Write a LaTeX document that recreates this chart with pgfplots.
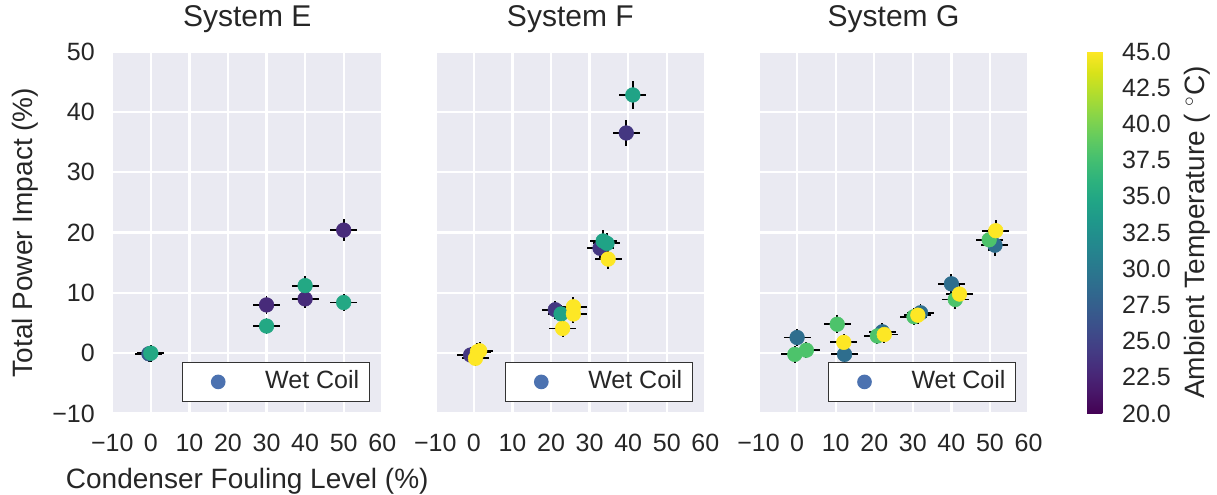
\documentclass[border=0pt]{standalone}
\usepackage{fontspec}
\setmainfont{Liberation Sans}
\usepackage{pgfplots}
\usepackage{pgfplotstable}
\pgfplotsset{compat=1.18}
\definecolor{bggray}{HTML}{EAEAF2}
\definecolor{textgray}{HTML}{262626}
\definecolor{wetblue}{HTML}{4C72B0}
\newcommand{\tickfont}{\fontsize{18.75}{21}\selectfont}
\newcommand{\labelfont}{\fontsize{21}{25}\selectfont}
\newcommand{\titlefont}{\fontsize{22.5}{27}\selectfont}

\pgfplotstableread{
x y ex ey c
-0.5 -0.1 3.5 1.35 27
30 8.0 3.5 1.45 23
40 9.0 3.5 1.5 23
50 20.4 3.5 1.8 23
0 0.0 3.5 1.4 35
30 4.5 3.5 1.4 35
40 11.2 3.5 1.55 35
50 8.4 3.5 1.45 35
}\dataE

\pgfplotstableread{
x y ex ey c
-0.85 -0.3 3.5 1.35 24
21.1 7.2 3.5 1.5 24
32.7 17.4 3.5 1.75 24
39.5 36.5 3.5 2.15 24
22.6 6.5 3.5 1.5 34.5
33.5 18.6 3.5 1.75 34.5
34.5 18.2 3.5 1.75 34.5
41.2 42.8 3.5 2.3 34.5
0.4 -0.85 3.5 1.35 45
0.9 0.25 3.5 1.4 45
1.5 0.4 3.5 1.4 45
23.0 4.1 3.5 1.45 45
25.8 7.7 3.5 1.55 45
25.8 6.5 3.5 1.5 45
34.8 15.6 3.5 1.7 45
}\dataF

\pgfplotstableread{
x y ex ey c
0 2.6 3.5 1.4 29
12.3 -0.2 3.5 1.35 29
22.1 3.55 3.5 1.4 29
32.0 6.7 3.5 1.45 29
40.0 11.5 3.5 1.6 29
51.3 17.9 3.5 1.75 29
-0.6 -0.2 3.5 1.35 38
2.4 0.5 3.5 1.35 38
10.4 4.8 3.5 1.45 38
20.8 2.85 3.5 1.4 38
30.3 6.05 3.5 1.45 38
41.0 8.9 3.5 1.55 38
49.8 18.8 3.5 1.8 38
12.1 1.8 3.5 1.4 45
22.6 3.1 3.5 1.4 45
31.3 6.3 3.5 1.45 45
42.1 9.8 3.5 1.6 45
51.5 20.3 3.5 1.8 45
}\dataG

\pgfplotsset{
 panel/.style={
  scale only axis, width=202.5pt, height=271.5pt,
  xmin=-10, xmax=60, ymin=-10, ymax=50,
  xtick={-10,0,10,20,30,40,50,60},
  xticklabels={−10,0,10,20,30,40,50,60},
  ytick={-10,0,10,20,30,40,50},
  axis background/.style={fill=bggray},
  axis line style={draw=none},
  major tick length=0pt,
  grid=major,
  major grid style={white, line width=1.75pt},
  tick label style={font=\tickfont, text=textgray, inner sep=0pt},
  xticklabel style={anchor=north, yshift=-14.9pt},
  yticklabel style={anchor=east, xshift=-13pt},
  title style={at={(axis description cs:0.5,1)}, anchor=base, yshift=12.4pt, font=\titlefont, text=textgray},
  colormap/viridis, point meta min=20, point meta max=45,
  legend style={at={(axis description cs:0.954,0.0318)}, anchor=south east,
    draw=black!80, line width=0.9pt, fill=white, inner xsep=7.5pt, inner ysep=5.8pt,
    font=\tickfont, text=textgray,
    nodes={inner sep=0pt, text height=13.4pt, text depth=4.25pt}},
 },
 pts/.style={scatter, only marks, mark=*, mark size=5.5pt, scatter src=explicit,
   scatter/use mapped color={draw=mapped color, fill=mapped color}, forget plot,
   error bars/.cd, x dir=both, x explicit, y dir=both, y explicit, error mark=none,
   error bar style={black, line width=1.4pt}},
 wetleg/.style={legend image code/.code={\path[draw=none, fill=none] (-19.5pt,-6pt) rectangle (35.25pt,6pt); \path[draw=none, fill=wetblue] (0pt,0pt) circle (5.5pt);}},
}

\begin{document}
\begin{tikzpicture}
\path[use as bounding box] (0,0) rectangle (912.75pt,371.25pt);

\begin{axis}[panel, at={(84.2pt,61.1pt)}, anchor=south west, title={System E},
  yticklabels={−10,0,10,20,30,40,50},
  xlabel={Condenser Fouling Level (\%)}, ylabel={Total Power Impact (\%)},
  xlabel style={at={(axis description cs:0.5,0)}, anchor=base, yshift=-56pt, font=\labelfont, text=textgray},
  ylabel style={at={(axis description cs:-0.323,0.5)}, anchor=center, font=\labelfont, text=textgray}]
\addplot[pts] table[x=x, y=y, x error=ex, y error=ey, meta=c] {\dataE};
\addlegendimage{wetleg}
\addlegendentry{Wet Coil}
\end{axis}

\begin{axis}[panel, at={(326.5pt,61.1pt)}, anchor=south west, title={System F},
  yticklabels={}]
\addplot[pts] table[x=x, y=y, x error=ex, y error=ey, meta=c] {\dataF};
\addlegendimage{wetleg}
\addlegendentry{Wet Coil}
\end{axis}

\begin{axis}[panel, at={(568.9pt,61.1pt)}, anchor=south west, title={System G},
  yticklabels={},
  colorbar,
  colorbar shift/.style={xshift=43.85pt},
  colorbar style={
    scale only axis, width=11.6pt, height=271.5pt,
    at={(parent axis.north east)}, anchor=north west,
    ytick={20,22.5,25,27.5,30,32.5,35,37.5,40,42.5,45},
    yticklabels={20.0,22.5,25.0,27.5,30.0,32.5,35.0,37.5,40.0,42.5,45.0},
    axis line style={draw=none}, major tick length=0pt,
    yticklabel style={font=\tickfont, text=textgray, inner sep=0pt, anchor=west, xshift=14.6pt},
    ylabel={Ambient Temperature ( $^\circ$C)},
    every axis y label/.style={at={(axis description cs:7.1,0.5)}, rotate=90, anchor=center, font=\labelfont, text=textgray},
  }]
\addplot[pts] table[x=x, y=y, x error=ex, y error=ey, meta=c] {\dataG};
\addlegendimage{wetleg}
\addlegendentry{Wet Coil}
\end{axis}
\end{tikzpicture}
\end{document}
